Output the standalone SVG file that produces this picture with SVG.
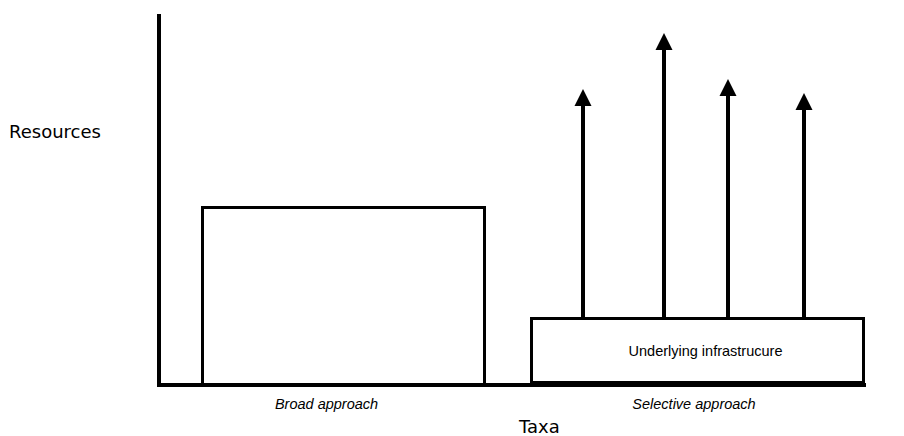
<svg xmlns="http://www.w3.org/2000/svg" width="904" height="436" viewBox="0 0 904 436">
<defs>
<style>
.ax{stroke:#000;stroke-width:4;fill:none}
.box{stroke:#000;stroke-width:3;fill:#fff}
.shaft{stroke:#000;stroke-width:4;fill:none}
.head{fill:#000}
.lbl{font-family:"Liberation Sans",Arial,sans-serif;font-size:14.5px;fill:#000;text-anchor:middle}
.axl{font-family:"DejaVu Sans",Verdana,sans-serif;font-size:18px;fill:#000}
</style>
</defs>
<rect width="904" height="436" fill="#fff"/>
<g id="axes">
<line class="ax" x1="159" y1="14" x2="159" y2="387"/>
<line class="ax" x1="157" y1="385" x2="866" y2="385"/>
</g>
<g id="broad">
<rect class="box" x="202.5" y="207.5" width="282" height="177"/>
<text class="lbl" x="326.5" y="409" font-style="italic">Broad approach</text>
</g>
<g id="connectors">
<line class="shaft" x1="583" y1="318" x2="583" y2="100"/>
<polygon class="head" points="583,89 574.5,106 591.5,106"/>
<line class="shaft" x1="664" y1="318" x2="664" y2="44"/>
<polygon class="head" points="664,33 655.5,50 672.5,50"/>
<line class="shaft" x1="728" y1="318" x2="728" y2="90"/>
<polygon class="head" points="728,79 719.5,96 736.5,96"/>
<line class="shaft" x1="804" y1="318" x2="804" y2="104"/>
<polygon class="head" points="804,93 795.5,110 812.5,110"/>
</g>
<g id="infra">
<rect class="box" x="531.5" y="318.5" width="332" height="64"/>
<text class="lbl" x="705.5" y="356">Underlying infrastrucure</text>
<text class="lbl" x="694" y="409" font-style="italic">Selective approach</text>
</g>
<text class="axl" x="9" y="138">Resources</text>
<text class="axl" x="519" y="433">Taxa</text>
</svg>
